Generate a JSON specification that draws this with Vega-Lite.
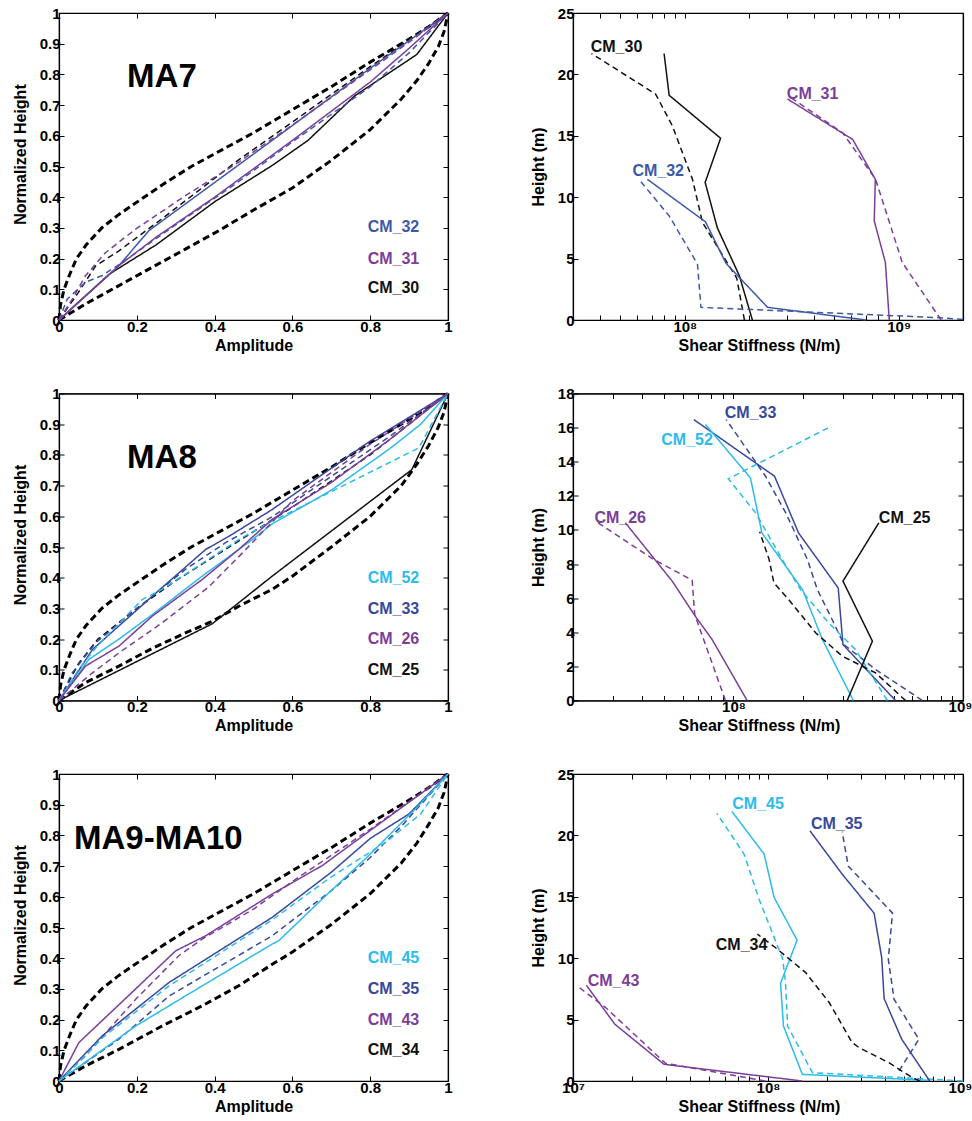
{
"$schema": "https://vega.github.io/schema/vega-lite/v6.json",
"padding": {"left": 11, "top": 5, "right": 0, "bottom": 5},
"config": {
 "font": "Liberation Sans",
 "view": {"stroke": "black", "strokeWidth": 1.2},
 "axis": {"grid": false, "domainColor": "black", "domainWidth": 1.2, "tickColor": "black", "tickSize": -5, "tickWidth": 1, "labelFont": "Liberation Sans", "labelFontSize": 15, "labelFontWeight": "bold", "labelColor": "black", "titleFont": "Liberation Sans", "titleFontSize": 16, "titleFontWeight": "bold", "titleColor": "black", "labelPadding": 4, "titlePadding": 2, "labelOverlap": false, "labelFlush": false},
 "axisY": {"titlePadding": 11},
 "axisX": {"titlePadding": 3},
 "text": {"font": "Liberation Sans"}
},
"datasets": {
 "env": [
  {"panel":"MA7","curve":"upper","x":0,"y":0},{"panel":"MA7","curve":"upper","x":0.004,"y":0.05},{"panel":"MA7","curve":"upper","x":0.013,"y":0.1},{"panel":"MA7","curve":"upper","x":0.028,"y":0.15},{"panel":"MA7","curve":"upper","x":0.045,"y":0.2},{"panel":"MA7","curve":"upper","x":0.07,"y":0.245},{"panel":"MA7","curve":"upper","x":0.11,"y":0.3},{"panel":"MA7","curve":"upper","x":0.15,"y":0.34},{"panel":"MA7","curve":"upper","x":0.19,"y":0.375},{"panel":"MA7","curve":"upper","x":0.265,"y":0.44},{"panel":"MA7","curve":"upper","x":0.34,"y":0.5},{"panel":"MA7","curve":"upper","x":0.42,"y":0.555},{"panel":"MA7","curve":"upper","x":0.5,"y":0.61},{"panel":"MA7","curve":"upper","x":0.6,"y":0.685},{"panel":"MA7","curve":"upper","x":0.7,"y":0.76},{"panel":"MA7","curve":"upper","x":0.8,"y":0.84},{"panel":"MA7","curve":"upper","x":0.9,"y":0.915},{"panel":"MA7","curve":"upper","x":0.95,"y":0.955},{"panel":"MA7","curve":"upper","x":1,"y":1},
  {"panel":"MA7","curve":"lower","x":0,"y":0},{"panel":"MA7","curve":"lower","x":0.068,"y":0.052},{"panel":"MA7","curve":"lower","x":0.154,"y":0.112},{"panel":"MA7","curve":"lower","x":0.24,"y":0.172},{"panel":"MA7","curve":"lower","x":0.325,"y":0.231},{"panel":"MA7","curve":"lower","x":0.411,"y":0.291},{"panel":"MA7","curve":"lower","x":0.497,"y":0.356},{"panel":"MA7","curve":"lower","x":0.6,"y":0.43},{"panel":"MA7","curve":"lower","x":0.7,"y":0.52},{"panel":"MA7","curve":"lower","x":0.8,"y":0.62},{"panel":"MA7","curve":"lower","x":0.88,"y":0.72},{"panel":"MA7","curve":"lower","x":0.92,"y":0.78},{"panel":"MA7","curve":"lower","x":0.95,"y":0.835},{"panel":"MA7","curve":"lower","x":0.975,"y":0.89},{"panel":"MA7","curve":"lower","x":0.99,"y":0.94},{"panel":"MA7","curve":"lower","x":1,"y":1},
  {"panel":"MA8","curve":"upper","x":0,"y":0},{"panel":"MA8","curve":"upper","x":0.004,"y":0.05},{"panel":"MA8","curve":"upper","x":0.013,"y":0.1},{"panel":"MA8","curve":"upper","x":0.028,"y":0.15},{"panel":"MA8","curve":"upper","x":0.045,"y":0.2},{"panel":"MA8","curve":"upper","x":0.07,"y":0.245},{"panel":"MA8","curve":"upper","x":0.11,"y":0.3},{"panel":"MA8","curve":"upper","x":0.15,"y":0.34},{"panel":"MA8","curve":"upper","x":0.19,"y":0.375},{"panel":"MA8","curve":"upper","x":0.265,"y":0.44},{"panel":"MA8","curve":"upper","x":0.34,"y":0.5},{"panel":"MA8","curve":"upper","x":0.42,"y":0.555},{"panel":"MA8","curve":"upper","x":0.5,"y":0.61},{"panel":"MA8","curve":"upper","x":0.6,"y":0.685},{"panel":"MA8","curve":"upper","x":0.7,"y":0.76},{"panel":"MA8","curve":"upper","x":0.8,"y":0.84},{"panel":"MA8","curve":"upper","x":0.9,"y":0.915},{"panel":"MA8","curve":"upper","x":0.95,"y":0.955},{"panel":"MA8","curve":"upper","x":1,"y":1},
  {"panel":"MA8","curve":"lower","x":0,"y":0},{"panel":"MA8","curve":"lower","x":0.068,"y":0.058},{"panel":"MA8","curve":"lower","x":0.154,"y":0.112},{"panel":"MA8","curve":"lower","x":0.24,"y":0.17},{"panel":"MA8","curve":"lower","x":0.325,"y":0.22},{"panel":"MA8","curve":"lower","x":0.394,"y":0.258},{"panel":"MA8","curve":"lower","x":0.462,"y":0.307},{"panel":"MA8","curve":"lower","x":0.548,"y":0.362},{"panel":"MA8","curve":"lower","x":0.6,"y":0.405},{"panel":"MA8","curve":"lower","x":0.7,"y":0.5},{"panel":"MA8","curve":"lower","x":0.8,"y":0.6},{"panel":"MA8","curve":"lower","x":0.88,"y":0.7},{"panel":"MA8","curve":"lower","x":0.92,"y":0.77},{"panel":"MA8","curve":"lower","x":0.95,"y":0.83},{"panel":"MA8","curve":"lower","x":0.975,"y":0.89},{"panel":"MA8","curve":"lower","x":0.99,"y":0.94},{"panel":"MA8","curve":"lower","x":1,"y":1},
  {"panel":"MA9-MA10","curve":"upper","x":0,"y":0},{"panel":"MA9-MA10","curve":"upper","x":0.004,"y":0.05},{"panel":"MA9-MA10","curve":"upper","x":0.013,"y":0.1},{"panel":"MA9-MA10","curve":"upper","x":0.028,"y":0.15},{"panel":"MA9-MA10","curve":"upper","x":0.045,"y":0.2},{"panel":"MA9-MA10","curve":"upper","x":0.07,"y":0.245},{"panel":"MA9-MA10","curve":"upper","x":0.11,"y":0.3},{"panel":"MA9-MA10","curve":"upper","x":0.15,"y":0.34},{"panel":"MA9-MA10","curve":"upper","x":0.19,"y":0.375},{"panel":"MA9-MA10","curve":"upper","x":0.265,"y":0.44},{"panel":"MA9-MA10","curve":"upper","x":0.34,"y":0.5},{"panel":"MA9-MA10","curve":"upper","x":0.42,"y":0.555},{"panel":"MA9-MA10","curve":"upper","x":0.5,"y":0.61},{"panel":"MA9-MA10","curve":"upper","x":0.6,"y":0.685},{"panel":"MA9-MA10","curve":"upper","x":0.7,"y":0.76},{"panel":"MA9-MA10","curve":"upper","x":0.8,"y":0.84},{"panel":"MA9-MA10","curve":"upper","x":0.9,"y":0.915},{"panel":"MA9-MA10","curve":"upper","x":0.95,"y":0.955},{"panel":"MA9-MA10","curve":"upper","x":1,"y":1},
  {"panel":"MA9-MA10","curve":"lower","x":0,"y":0},{"panel":"MA9-MA10","curve":"lower","x":0.068,"y":0.049},{"panel":"MA9-MA10","curve":"lower","x":0.154,"y":0.103},{"panel":"MA9-MA10","curve":"lower","x":0.265,"y":0.179},{"panel":"MA9-MA10","curve":"lower","x":0.368,"y":0.245},{"panel":"MA9-MA10","curve":"lower","x":0.462,"y":0.31},{"panel":"MA9-MA10","curve":"lower","x":0.548,"y":0.38},{"panel":"MA9-MA10","curve":"lower","x":0.6,"y":0.42},{"panel":"MA9-MA10","curve":"lower","x":0.7,"y":0.51},{"panel":"MA9-MA10","curve":"lower","x":0.8,"y":0.61},{"panel":"MA9-MA10","curve":"lower","x":0.88,"y":0.71},{"panel":"MA9-MA10","curve":"lower","x":0.92,"y":0.775},{"panel":"MA9-MA10","curve":"lower","x":0.95,"y":0.835},{"panel":"MA9-MA10","curve":"lower","x":0.975,"y":0.89},{"panel":"MA9-MA10","curve":"lower","x":0.99,"y":0.94},{"panel":"MA9-MA10","curve":"lower","x":1,"y":1}
 ],
 "p1": [
  {"cm":"CM_30","kind":"solid","x":0,"y":0},{"cm":"CM_30","kind":"solid","x":0.13,"y":0.15},{"cm":"CM_30","kind":"solid","x":0.25,"y":0.245},{"cm":"CM_30","kind":"solid","x":0.4,"y":0.385},{"cm":"CM_30","kind":"solid","x":0.55,"y":0.505},{"cm":"CM_30","kind":"solid","x":0.64,"y":0.585},{"cm":"CM_30","kind":"solid","x":0.76,"y":0.73},{"cm":"CM_30","kind":"solid","x":0.92,"y":0.865},{"cm":"CM_30","kind":"solid","x":1,"y":1},
  {"cm":"CM_30","kind":"dashed","x":0,"y":0},{"cm":"CM_30","kind":"dashed","x":0.05,"y":0.09},{"cm":"CM_30","kind":"dashed","x":0.094,"y":0.176},{"cm":"CM_30","kind":"dashed","x":0.154,"y":0.225},{"cm":"CM_30","kind":"dashed","x":0.265,"y":0.33},{"cm":"CM_30","kind":"dashed","x":0.46,"y":0.52},{"cm":"CM_30","kind":"dashed","x":0.6,"y":0.645},{"cm":"CM_30","kind":"dashed","x":0.8,"y":0.825},{"cm":"CM_30","kind":"dashed","x":1,"y":1},
  {"cm":"CM_32","kind":"solid","x":0,"y":0},{"cm":"CM_32","kind":"solid","x":0.154,"y":0.177},{"cm":"CM_32","kind":"solid","x":0.231,"y":0.291},{"cm":"CM_32","kind":"solid","x":0.548,"y":0.585},{"cm":"CM_32","kind":"solid","x":0.8,"y":0.82},{"cm":"CM_32","kind":"solid","x":1,"y":1},
  {"cm":"CM_32","kind":"dashed","x":0,"y":0},{"cm":"CM_32","kind":"dashed","x":0.021,"y":0.068},{"cm":"CM_32","kind":"dashed","x":0.068,"y":0.123},{"cm":"CM_32","kind":"dashed","x":0.111,"y":0.145},{"cm":"CM_32","kind":"dashed","x":0.154,"y":0.18},{"cm":"CM_32","kind":"dashed","x":0.3,"y":0.31},{"cm":"CM_32","kind":"dashed","x":0.45,"y":0.44},{"cm":"CM_32","kind":"dashed","x":0.6,"y":0.58},{"cm":"CM_32","kind":"dashed","x":0.8,"y":0.76},{"cm":"CM_32","kind":"dashed","x":0.9,"y":0.87},{"cm":"CM_32","kind":"dashed","x":1,"y":1},
  {"cm":"CM_31","kind":"solid","x":0,"y":0},{"cm":"CM_31","kind":"solid","x":0.154,"y":0.177},{"cm":"CM_31","kind":"solid","x":0.25,"y":0.27},{"cm":"CM_31","kind":"solid","x":0.4,"y":0.4},{"cm":"CM_31","kind":"solid","x":0.6,"y":0.585},{"cm":"CM_31","kind":"solid","x":0.7,"y":0.68},{"cm":"CM_31","kind":"solid","x":0.8,"y":0.775},{"cm":"CM_31","kind":"solid","x":0.9,"y":0.885},{"cm":"CM_31","kind":"solid","x":1,"y":1},
  {"cm":"CM_31","kind":"dashed","x":0,"y":0},{"cm":"CM_31","kind":"dashed","x":0.034,"y":0.068},{"cm":"CM_31","kind":"dashed","x":0.068,"y":0.144},{"cm":"CM_31","kind":"dashed","x":0.12,"y":0.22},{"cm":"CM_31","kind":"dashed","x":0.197,"y":0.296},{"cm":"CM_31","kind":"dashed","x":0.325,"y":0.405},{"cm":"CM_31","kind":"dashed","x":0.462,"y":0.514},{"cm":"CM_31","kind":"dashed","x":0.548,"y":0.59},{"cm":"CM_31","kind":"dashed","x":0.6,"y":0.635},{"cm":"CM_31","kind":"dashed","x":0.75,"y":0.77},{"cm":"CM_31","kind":"dashed","x":0.9,"y":0.905},{"cm":"CM_31","kind":"dashed","x":1,"y":1}
 ],
 "p2": [
  {"cm":"CM_25","kind":"solid","x":0,"y":0},{"cm":"CM_25","kind":"solid","x":0.394,"y":0.25},{"cm":"CM_25","kind":"solid","x":0.548,"y":0.405},{"cm":"CM_25","kind":"solid","x":0.907,"y":0.752},{"cm":"CM_25","kind":"solid","x":1,"y":1},
  {"cm":"CM_25","kind":"dashed","x":0,"y":0},{"cm":"CM_25","kind":"dashed","x":0.05,"y":0.12},{"cm":"CM_25","kind":"dashed","x":0.1,"y":0.2},{"cm":"CM_25","kind":"dashed","x":0.2,"y":0.3},{"cm":"CM_25","kind":"dashed","x":0.3,"y":0.39},{"cm":"CM_25","kind":"dashed","x":0.4,"y":0.47},{"cm":"CM_25","kind":"dashed","x":0.6,"y":0.63},{"cm":"CM_25","kind":"dashed","x":0.8,"y":0.8},{"cm":"CM_25","kind":"dashed","x":1,"y":1},
  {"cm":"CM_33","kind":"solid","x":0,"y":0},{"cm":"CM_33","kind":"solid","x":0.086,"y":0.166},{"cm":"CM_33","kind":"solid","x":0.24,"y":0.34},{"cm":"CM_33","kind":"solid","x":0.377,"y":0.492},{"cm":"CM_33","kind":"solid","x":0.437,"y":0.535},{"cm":"CM_33","kind":"solid","x":0.548,"y":0.622},{"cm":"CM_33","kind":"solid","x":0.8,"y":0.845},{"cm":"CM_33","kind":"solid","x":1,"y":1},
  {"cm":"CM_33","kind":"dashed","x":0,"y":0},{"cm":"CM_33","kind":"dashed","x":0.034,"y":0.09},{"cm":"CM_33","kind":"dashed","x":0.094,"y":0.188},{"cm":"CM_33","kind":"dashed","x":0.197,"y":0.296},{"cm":"CM_33","kind":"dashed","x":0.325,"y":0.427},{"cm":"CM_33","kind":"dashed","x":0.428,"y":0.514},{"cm":"CM_33","kind":"dashed","x":0.55,"y":0.6},{"cm":"CM_33","kind":"dashed","x":0.7,"y":0.73},{"cm":"CM_33","kind":"dashed","x":0.85,"y":0.86},{"cm":"CM_33","kind":"dashed","x":1,"y":1},
  {"cm":"CM_52","kind":"solid","x":0,"y":0},{"cm":"CM_52","kind":"solid","x":0.077,"y":0.134},{"cm":"CM_52","kind":"solid","x":0.154,"y":0.2},{"cm":"CM_52","kind":"solid","x":0.24,"y":0.28},{"cm":"CM_52","kind":"solid","x":0.368,"y":0.405},{"cm":"CM_52","kind":"solid","x":0.497,"y":0.524},{"cm":"CM_52","kind":"solid","x":0.548,"y":0.575},{"cm":"CM_52","kind":"solid","x":0.7,"y":0.685},{"cm":"CM_52","kind":"solid","x":0.85,"y":0.82},{"cm":"CM_52","kind":"solid","x":0.93,"y":0.9},{"cm":"CM_52","kind":"solid","x":1,"y":1},
  {"cm":"CM_52","kind":"dashed","x":0,"y":0},{"cm":"CM_52","kind":"dashed","x":0.05,"y":0.1},{"cm":"CM_52","kind":"dashed","x":0.1,"y":0.18},{"cm":"CM_52","kind":"dashed","x":0.214,"y":0.329},{"cm":"CM_52","kind":"dashed","x":0.265,"y":0.362},{"cm":"CM_52","kind":"dashed","x":0.462,"y":0.524},{"cm":"CM_52","kind":"dashed","x":0.531,"y":0.573},{"cm":"CM_52","kind":"dashed","x":0.925,"y":0.823},{"cm":"CM_52","kind":"dashed","x":1,"y":1},
  {"cm":"CM_26","kind":"solid","x":0,"y":0},{"cm":"CM_26","kind":"solid","x":0.068,"y":0.112},{"cm":"CM_26","kind":"solid","x":0.154,"y":0.177},{"cm":"CM_26","kind":"solid","x":0.24,"y":0.275},{"cm":"CM_26","kind":"solid","x":0.368,"y":0.394},{"cm":"CM_26","kind":"solid","x":0.462,"y":0.492},{"cm":"CM_26","kind":"solid","x":0.548,"y":0.59},{"cm":"CM_26","kind":"solid","x":0.7,"y":0.71},{"cm":"CM_26","kind":"solid","x":0.85,"y":0.85},{"cm":"CM_26","kind":"solid","x":1,"y":1},
  {"cm":"CM_26","kind":"dashed","x":0,"y":0},{"cm":"CM_26","kind":"dashed","x":0.086,"y":0.09},{"cm":"CM_26","kind":"dashed","x":0.154,"y":0.155},{"cm":"CM_26","kind":"dashed","x":0.265,"y":0.253},{"cm":"CM_26","kind":"dashed","x":0.385,"y":0.37},{"cm":"CM_26","kind":"dashed","x":0.471,"y":0.48},{"cm":"CM_26","kind":"dashed","x":0.6,"y":0.65},{"cm":"CM_26","kind":"dashed","x":0.8,"y":0.835},{"cm":"CM_26","kind":"dashed","x":1,"y":1}
 ],
 "p3": [
  {"cm":"CM_43","kind":"solid","x":0,"y":0},{"cm":"CM_43","kind":"solid","x":0.051,"y":0.125},{"cm":"CM_43","kind":"solid","x":0.197,"y":0.3},{"cm":"CM_43","kind":"solid","x":0.3,"y":0.424},{"cm":"CM_43","kind":"solid","x":0.377,"y":0.473},{"cm":"CM_43","kind":"solid","x":0.548,"y":0.609},{"cm":"CM_43","kind":"solid","x":0.676,"y":0.701},{"cm":"CM_43","kind":"solid","x":0.88,"y":0.89},{"cm":"CM_43","kind":"solid","x":1,"y":1},
  {"cm":"CM_43","kind":"dashed","x":0,"y":0},{"cm":"CM_43","kind":"dashed","x":0.068,"y":0.082},{"cm":"CM_43","kind":"dashed","x":0.197,"y":0.266},{"cm":"CM_43","kind":"dashed","x":0.308,"y":0.408},{"cm":"CM_43","kind":"dashed","x":0.368,"y":0.462},{"cm":"CM_43","kind":"dashed","x":0.5,"y":0.56},{"cm":"CM_43","kind":"dashed","x":0.6,"y":0.65},{"cm":"CM_43","kind":"dashed","x":0.7,"y":0.735},{"cm":"CM_43","kind":"dashed","x":0.8,"y":0.82},{"cm":"CM_43","kind":"dashed","x":0.9,"y":0.91},{"cm":"CM_43","kind":"dashed","x":1,"y":1},
  {"cm":"CM_35","kind":"solid","x":0,"y":0},{"cm":"CM_35","kind":"solid","x":0.111,"y":0.147},{"cm":"CM_35","kind":"solid","x":0.283,"y":0.321},{"cm":"CM_35","kind":"solid","x":0.548,"y":0.533},{"cm":"CM_35","kind":"solid","x":0.7,"y":0.68},{"cm":"CM_35","kind":"solid","x":0.8,"y":0.79},{"cm":"CM_35","kind":"solid","x":0.9,"y":0.87},{"cm":"CM_35","kind":"solid","x":1,"y":1},
  {"cm":"CM_35","kind":"dashed","x":0,"y":0},{"cm":"CM_35","kind":"dashed","x":0.068,"y":0.06},{"cm":"CM_35","kind":"dashed","x":0.154,"y":0.136},{"cm":"CM_35","kind":"dashed","x":0.283,"y":0.277},{"cm":"CM_35","kind":"dashed","x":0.548,"y":0.473},{"cm":"CM_35","kind":"dashed","x":0.7,"y":0.62},{"cm":"CM_35","kind":"dashed","x":0.796,"y":0.723},{"cm":"CM_35","kind":"dashed","x":0.882,"y":0.832},{"cm":"CM_35","kind":"dashed","x":1,"y":1},
  {"cm":"CM_45","kind":"solid","x":0,"y":0},{"cm":"CM_45","kind":"solid","x":0.197,"y":0.179},{"cm":"CM_45","kind":"solid","x":0.325,"y":0.277},{"cm":"CM_45","kind":"solid","x":0.548,"y":0.446},{"cm":"CM_45","kind":"solid","x":0.565,"y":0.457},{"cm":"CM_45","kind":"solid","x":0.676,"y":0.592},{"cm":"CM_45","kind":"solid","x":0.796,"y":0.734},{"cm":"CM_45","kind":"solid","x":0.916,"y":0.886},{"cm":"CM_45","kind":"solid","x":1,"y":1},
  {"cm":"CM_45","kind":"dashed","x":0,"y":0},{"cm":"CM_45","kind":"dashed","x":0.05,"y":0.06},{"cm":"CM_45","kind":"dashed","x":0.111,"y":0.14},{"cm":"CM_45","kind":"dashed","x":0.283,"y":0.31},{"cm":"CM_45","kind":"dashed","x":0.548,"y":0.525},{"cm":"CM_45","kind":"dashed","x":0.7,"y":0.665},{"cm":"CM_45","kind":"dashed","x":0.839,"y":0.777},{"cm":"CM_45","kind":"dashed","x":0.93,"y":0.87},{"cm":"CM_45","kind":"dashed","x":1,"y":1}
 ],
 "p4": [
  {"cm":"CM_30","kind":"solid","stiff":8.0e7,"height":21.7},{"cm":"CM_30","kind":"solid","stiff":8.45e7,"height":18.3},{"cm":"CM_30","kind":"solid","stiff":1.47e8,"height":14.8},{"cm":"CM_30","kind":"solid","stiff":1.245e8,"height":11.2},{"cm":"CM_30","kind":"solid","stiff":1.42e8,"height":7.5},{"cm":"CM_30","kind":"solid","stiff":1.8e8,"height":3.6},{"cm":"CM_30","kind":"solid","stiff":2.07e8,"height":0},
  {"cm":"CM_30","kind":"dashed","stiff":3.66e7,"height":21.7},{"cm":"CM_30","kind":"dashed","stiff":7.3e7,"height":18.4},{"cm":"CM_30","kind":"dashed","stiff":8.75e7,"height":15.8},{"cm":"CM_30","kind":"dashed","stiff":1.086e8,"height":11.46},{"cm":"CM_30","kind":"dashed","stiff":1.21e8,"height":7.94},{"cm":"CM_30","kind":"dashed","stiff":1.75e8,"height":3.4},{"cm":"CM_30","kind":"dashed","stiff":1.9e8,"height":0},
  {"cm":"CM_32","kind":"solid","stiff":6.68e7,"height":11.46},{"cm":"CM_32","kind":"solid","stiff":1.25e8,"height":7.99},{"cm":"CM_32","kind":"solid","stiff":1.56e8,"height":4.6},{"cm":"CM_32","kind":"solid","stiff":2.44e8,"height":1.03},{"cm":"CM_32","kind":"solid","stiff":7.03e8,"height":0},
  {"cm":"CM_32","kind":"dashed","stiff":6.1e7,"height":11.46},{"cm":"CM_32","kind":"dashed","stiff":8.45e7,"height":8.48},{"cm":"CM_32","kind":"dashed","stiff":1.146e8,"height":4.55},{"cm":"CM_32","kind":"dashed","stiff":1.19e8,"height":1.03},{"cm":"CM_32","kind":"dashed","stiff":1.5e9,"height":0.2},{"cm":"CM_32","kind":"dashed","stiff":2.0e9,"height":0.05},
  {"cm":"CM_31","kind":"solid","stiff":3.02e8,"height":18.0},{"cm":"CM_31","kind":"solid","stiff":6.1e8,"height":14.7},{"cm":"CM_31","kind":"solid","stiff":7.78e8,"height":11.46},{"cm":"CM_31","kind":"solid","stiff":7.69e8,"height":8.07},{"cm":"CM_31","kind":"solid","stiff":8.67e8,"height":4.69},{"cm":"CM_31","kind":"solid","stiff":9.04e8,"height":0},
  {"cm":"CM_31","kind":"dashed","stiff":3.08e8,"height":18.2},{"cm":"CM_31","kind":"dashed","stiff":5.47e8,"height":15.25},{"cm":"CM_31","kind":"dashed","stiff":7.8e8,"height":11.46},{"cm":"CM_31","kind":"dashed","stiff":1.04e9,"height":4.69},{"cm":"CM_31","kind":"dashed","stiff":1.58e9,"height":0}
 ],
 "p5": [
  {"cm":"CM_26","kind":"solid","stiff":3.38e7,"height":10.42},{"cm":"CM_26","kind":"solid","stiff":5.41e7,"height":7.0},{"cm":"CM_26","kind":"solid","stiff":6.82e7,"height":4.94},{"cm":"CM_26","kind":"solid","stiff":8.07e7,"height":3.58},{"cm":"CM_26","kind":"solid","stiff":1.147e8,"height":0},
  {"cm":"CM_26","kind":"dashed","stiff":2.57e7,"height":10.42},{"cm":"CM_26","kind":"dashed","stiff":4.5e7,"height":8.27},{"cm":"CM_26","kind":"dashed","stiff":6.61e7,"height":7.05},{"cm":"CM_26","kind":"dashed","stiff":6.78e7,"height":5.04},{"cm":"CM_26","kind":"dashed","stiff":9.23e7,"height":0},
  {"cm":"CM_33","kind":"solid","stiff":6.72e7,"height":16.47},{"cm":"CM_33","kind":"solid","stiff":1.51e8,"height":13.15},{"cm":"CM_33","kind":"solid","stiff":1.92e8,"height":9.83},{"cm":"CM_33","kind":"solid","stiff":2.86e8,"height":6.6},{"cm":"CM_33","kind":"solid","stiff":3.0e8,"height":3.28},{"cm":"CM_33","kind":"solid","stiff":5.08e8,"height":0},
  {"cm":"CM_33","kind":"dashed","stiff":9.3e7,"height":16.47},{"cm":"CM_33","kind":"dashed","stiff":1.38e8,"height":13.15},{"cm":"CM_33","kind":"dashed","stiff":1.69e8,"height":11.0},{"cm":"CM_33","kind":"dashed","stiff":2.1e8,"height":8.27},{"cm":"CM_33","kind":"dashed","stiff":2.32e8,"height":6.5},{"cm":"CM_33","kind":"dashed","stiff":2.69e8,"height":4.75},{"cm":"CM_33","kind":"dashed","stiff":3.03e8,"height":3.28},{"cm":"CM_33","kind":"dashed","stiff":4.16e8,"height":1.82},{"cm":"CM_33","kind":"dashed","stiff":6.65e8,"height":0},
  {"cm":"CM_52","kind":"solid","stiff":7.55e7,"height":16.18},{"cm":"CM_52","kind":"solid","stiff":1.186e8,"height":13.05},{"cm":"CM_52","kind":"solid","stiff":1.33e8,"height":9.83},{"cm":"CM_52","kind":"solid","stiff":2.0e8,"height":6.5},{"cm":"CM_52","kind":"solid","stiff":2.44e8,"height":3.58},{"cm":"CM_52","kind":"solid","stiff":3.33e8,"height":0},
  {"cm":"CM_52","kind":"dashed","stiff":2.67e8,"height":16.08},{"cm":"CM_52","kind":"dashed","stiff":9.5e7,"height":13.0},{"cm":"CM_52","kind":"dashed","stiff":1.25e8,"height":11.0},{"cm":"CM_52","kind":"dashed","stiff":1.63e8,"height":8.27},{"cm":"CM_52","kind":"dashed","stiff":1.96e8,"height":6.5},{"cm":"CM_52","kind":"dashed","stiff":2.6e8,"height":4.55},{"cm":"CM_52","kind":"dashed","stiff":3.4e8,"height":2.99},{"cm":"CM_52","kind":"dashed","stiff":4.68e8,"height":0},
  {"cm":"CM_25","kind":"solid","stiff":4.3e8,"height":10.42},{"cm":"CM_25","kind":"solid","stiff":3.0e8,"height":7.0},{"cm":"CM_25","kind":"solid","stiff":4.03e8,"height":3.48},{"cm":"CM_25","kind":"solid","stiff":3.13e8,"height":0},
  {"cm":"CM_25","kind":"dashed","stiff":1.3e8,"height":9.9},{"cm":"CM_25","kind":"dashed","stiff":1.43e8,"height":8.27},{"cm":"CM_25","kind":"dashed","stiff":1.5e8,"height":6.9},{"cm":"CM_25","kind":"dashed","stiff":1.74e8,"height":5.92},{"cm":"CM_25","kind":"dashed","stiff":2.28e8,"height":3.97},{"cm":"CM_25","kind":"dashed","stiff":2.98e8,"height":2.6},{"cm":"CM_25","kind":"dashed","stiff":4.16e8,"height":1.62},{"cm":"CM_25","kind":"dashed","stiff":5.62e8,"height":0}
 ],
 "p6": [
  {"cm":"CM_43","kind":"solid","stiff":1.17e7,"height":7.8},{"cm":"CM_43","kind":"solid","stiff":1.64e7,"height":4.62},{"cm":"CM_43","kind":"solid","stiff":2.93e7,"height":1.36},{"cm":"CM_43","kind":"solid","stiff":1.5e8,"height":0},
  {"cm":"CM_43","kind":"dashed","stiff":1.08e7,"height":7.6},{"cm":"CM_43","kind":"dashed","stiff":1.47e7,"height":5.98},{"cm":"CM_43","kind":"dashed","stiff":2.98e7,"height":1.44},{"cm":"CM_43","kind":"dashed","stiff":9.7e7,"height":0},
  {"cm":"CM_45","kind":"solid","stiff":6.52e7,"height":21.96},{"cm":"CM_45","kind":"solid","stiff":9.55e7,"height":18.48},{"cm":"CM_45","kind":"solid","stiff":1.075e8,"height":14.95},{"cm":"CM_45","kind":"solid","stiff":1.41e8,"height":11.47},{"cm":"CM_45","kind":"solid","stiff":1.16e8,"height":7.96},{"cm":"CM_45","kind":"solid","stiff":1.2e8,"height":4.48},{"cm":"CM_45","kind":"solid","stiff":1.5e8,"height":0.54},{"cm":"CM_45","kind":"solid","stiff":6.7e8,"height":0.05},
  {"cm":"CM_45","kind":"dashed","stiff":5.46e7,"height":21.8},{"cm":"CM_45","kind":"dashed","stiff":7.54e7,"height":18.48},{"cm":"CM_45","kind":"dashed","stiff":9.0e7,"height":14.8},{"cm":"CM_45","kind":"dashed","stiff":1.19e8,"height":9.92},{"cm":"CM_45","kind":"dashed","stiff":1.23e8,"height":8.0},{"cm":"CM_45","kind":"dashed","stiff":1.26e8,"height":4.48},{"cm":"CM_45","kind":"dashed","stiff":1.69e8,"height":0.68},{"cm":"CM_45","kind":"dashed","stiff":1e9,"height":0},
  {"cm":"CM_35","kind":"solid","stiff":1.64e8,"height":20.38},{"cm":"CM_35","kind":"solid","stiff":2.4e8,"height":16.85},{"cm":"CM_35","kind":"solid","stiff":3.5e8,"height":13.67},{"cm":"CM_35","kind":"solid","stiff":3.83e8,"height":10.05},{"cm":"CM_35","kind":"solid","stiff":3.94e8,"height":6.71},{"cm":"CM_35","kind":"solid","stiff":4.85e8,"height":3.4},{"cm":"CM_35","kind":"solid","stiff":6.75e8,"height":0},
  {"cm":"CM_35","kind":"dashed","stiff":2.4e8,"height":20.3},{"cm":"CM_35","kind":"dashed","stiff":2.58e8,"height":17.5},{"cm":"CM_35","kind":"dashed","stiff":4.35e8,"height":13.67},{"cm":"CM_35","kind":"dashed","stiff":4.14e8,"height":9.92},{"cm":"CM_35","kind":"dashed","stiff":4.43e8,"height":6.66},{"cm":"CM_35","kind":"dashed","stiff":5.94e8,"height":3.4},{"cm":"CM_35","kind":"dashed","stiff":4.7e8,"height":0.82},
  {"cm":"CM_34","kind":"dashed","stiff":8.82e7,"height":11.96},{"cm":"CM_34","kind":"dashed","stiff":1.09e8,"height":10.87},{"cm":"CM_34","kind":"dashed","stiff":1.56e8,"height":8.83},{"cm":"CM_34","kind":"dashed","stiff":2.06e8,"height":6.39},{"cm":"CM_34","kind":"dashed","stiff":2.7e8,"height":3.13},{"cm":"CM_34","kind":"dashed","stiff":2.93e8,"height":2.72},{"cm":"CM_34","kind":"dashed","stiff":4.17e8,"height":1.49},{"cm":"CM_34","kind":"dashed","stiff":5.5e8,"height":0.27},{"cm":"CM_34","kind":"dashed","stiff":6.0e8,"height":0}
 ],
 "l1": [{"cm":"CM_32","x":0.926,"y":0.302},{"cm":"CM_31","x":0.926,"y":0.2},{"cm":"CM_30","x":0.926,"y":0.103}],
 "l2": [{"cm":"CM_52","x":0.926,"y":0.4},{"cm":"CM_33","x":0.926,"y":0.299},{"cm":"CM_26","x":0.926,"y":0.2},{"cm":"CM_25","x":0.926,"y":0.1}],
 "l3": [{"cm":"CM_45","x":0.926,"y":0.4},{"cm":"CM_35","x":0.926,"y":0.3},{"cm":"CM_43","x":0.926,"y":0.2},{"cm":"CM_34","x":0.926,"y":0.1}],
 "l4": [{"cm":"CM_30","stiff":3.63e7,"height":22.2},{"cm":"CM_31","stiff":3.0e8,"height":18.4},{"cm":"CM_32","stiff":5.69e7,"height":12.1}],
 "l5": [{"cm":"CM_33","stiff":9.17e7,"height":16.87},{"cm":"CM_52","stiff":4.85e7,"height":15.3},{"cm":"CM_26","stiff":2.48e7,"height":10.7},{"cm":"CM_25","stiff":4.3e8,"height":10.7}],
 "l6": [{"cm":"CM_45","stiff":6.56e7,"height":22.55},{"cm":"CM_35","stiff":1.66e8,"height":20.9},{"cm":"CM_34","stiff":5.4e7,"height":11.06},{"cm":"CM_43","stiff":1.19e7,"height":8.15}],
 "names": [{"panel":"MA7","x":0.175,"y":0.79},{"panel":"MA8","x":0.175,"y":0.79},{"panel":"MA9-MA10","x":0.0385,"y":0.788}]
},
"columns": 2,
"spacing": {"row": 73.5, "column": 125},
"bounds": "flush",
"concat": [
 {"width": 389, "height": 307,
  "layer": [
   {"data": {"name": "env"}, "transform": [{"filter": "datum.panel == 'MA7'"}], "mark": {"type": "line", "color": "black", "strokeWidth": 3, "strokeDash": [7, 4]},
    "encoding": {"x": {"field": "x", "type": "quantitative", "scale": {"domain": [0, 1], "nice": false}, "axis": {"title": "Amplitude", "values": [0, 0.2, 0.4, 0.6, 0.8, 1], "format": "~g"}},
     "y": {"field": "y", "type": "quantitative", "scale": {"domain": [0, 1], "nice": false}, "axis": {"title": "Normalized Height", "titleY": 141, "values": [0, 0.1, 0.2, 0.3, 0.4, 0.5, 0.6, 0.7, 0.8, 0.9, 1], "format": "~g"}},
     "detail": {"field": "curve"}, "order": {"field": "y"}}},
   {"data": {"name": "p1"}, "mark": {"type": "line", "strokeWidth": 1.5},
    "encoding": {"x": {"field": "x", "type": "quantitative", "axis": null}, "y": {"field": "y", "type": "quantitative", "axis": null},
     "color": {"field": "cm", "type": "nominal", "legend": null, "scale": {"domain": ["CM_25","CM_26","CM_30","CM_31","CM_32","CM_33","CM_34","CM_35","CM_43","CM_45","CM_52"], "range": ["#111111","#7b3f99","#111111","#7b3f99","#3c5aa8","#39489b","#111111","#39489b","#7b3f99","#2dbbe9","#2dbbe9"]}},
     "strokeDash": {"field": "kind", "type": "nominal", "legend": null, "scale": {"domain": ["solid", "dashed"], "range": [[1, 0], [6, 4]]}},
     "order": {"field": "y"}}},
   {"data": {"name": "l1"}, "mark": {"type": "text", "align": "right", "baseline": "middle", "fontSize": 16, "fontWeight": "bold"},
    "encoding": {"x": {"field": "x", "type": "quantitative", "axis": {"orient": "top", "labels": false, "title": null, "values": [0, 0.2, 0.4, 0.6, 0.8, 1]}},
     "y": {"field": "y", "type": "quantitative", "axis": {"orient": "right", "labels": false, "title": null, "values": [0, 0.1, 0.2, 0.3, 0.4, 0.5, 0.6, 0.7, 0.8, 0.9, 1]}},
     "text": {"field": "cm"},
     "color": {"field": "cm", "type": "nominal", "legend": null, "scale": {"domain": ["CM_25","CM_26","CM_30","CM_31","CM_32","CM_33","CM_34","CM_35","CM_43","CM_45","CM_52"], "range": ["#111111","#7b3f99","#111111","#7b3f99","#3c5aa8","#39489b","#111111","#39489b","#7b3f99","#2dbbe9","#2dbbe9"]}}}},
   {"data": {"name": "names"}, "transform": [{"filter": "datum.panel == 'MA7'"}], "mark": {"type": "text", "align": "left", "baseline": "middle", "fontSize": 33, "fontWeight": "bold", "color": "black"},
    "encoding": {"x": {"field": "x", "type": "quantitative", "axis": null}, "y": {"field": "y", "type": "quantitative", "axis": null}, "text": {"field": "panel"}}}
  ],
  "resolve": {"axis": {"x": "independent", "y": "independent"}}
 },
 {"width": 390, "height": 307,
  "layer": [
   {"data": {"name": "p4"}, "mark": {"type": "line", "strokeWidth": 1.5},
    "encoding": {"x": {"field": "stiff", "type": "quantitative", "scale": {"type": "log", "domain": [3e7, 2e9], "nice": false}, "axis": {"title": "Shear Stiffness (N/m)", "titleX": 186, "values": [4e7,5e7,6e7,7e7,8e7,9e7,1e8,2e8,3e8,4e8,5e8,6e8,7e8,8e8,9e8,1e9,2e9], "labelExpr": "datum.value==1e7?'10⁷':datum.value==1e8?'10⁸':datum.value==1e9?'10⁹':''"}},
     "y": {"field": "height", "type": "quantitative", "scale": {"domain": [0, 25], "nice": false}, "axis": {"title": "Height (m)", "values": [0, 5, 10, 15, 20, 25]}},
     "color": {"field": "cm", "type": "nominal", "legend": null, "scale": {"domain": ["CM_25","CM_26","CM_30","CM_31","CM_32","CM_33","CM_34","CM_35","CM_43","CM_45","CM_52"], "range": ["#111111","#7b3f99","#111111","#7b3f99","#3c5aa8","#39489b","#111111","#39489b","#7b3f99","#2dbbe9","#2dbbe9"]}},
     "strokeDash": {"field": "kind", "type": "nominal", "legend": null, "scale": {"domain": ["solid", "dashed"], "range": [[1, 0], [6, 4]]}},
     "order": {"field": "height"}}},
   {"data": {"name": "l4"}, "mark": {"type": "text", "align": "left", "baseline": "middle", "fontSize": 16, "fontWeight": "bold"},
    "encoding": {"x": {"field": "stiff", "type": "quantitative", "axis": {"orient": "top", "labels": false, "title": null, "values": [4e7,5e7,6e7,7e7,8e7,9e7,1e8,2e8,3e8,4e8,5e8,6e8,7e8,8e8,9e8,1e9,2e9]}},
     "y": {"field": "height", "type": "quantitative", "axis": {"orient": "right", "labels": false, "title": null, "values": [0, 5, 10, 15, 20, 25]}},
     "text": {"field": "cm"},
     "color": {"field": "cm", "type": "nominal", "legend": null, "scale": {"domain": ["CM_25","CM_26","CM_30","CM_31","CM_32","CM_33","CM_34","CM_35","CM_43","CM_45","CM_52"], "range": ["#111111","#7b3f99","#111111","#7b3f99","#3c5aa8","#39489b","#111111","#39489b","#7b3f99","#2dbbe9","#2dbbe9"]}}}}
  ],
  "resolve": {"axis": {"x": "independent", "y": "independent"}}
 },
 {"width": 389, "height": 307,
  "layer": [
   {"data": {"name": "env"}, "transform": [{"filter": "datum.panel == 'MA8'"}], "mark": {"type": "line", "color": "black", "strokeWidth": 3, "strokeDash": [7, 4]},
    "encoding": {"x": {"field": "x", "type": "quantitative", "scale": {"domain": [0, 1], "nice": false}, "axis": {"title": "Amplitude", "values": [0, 0.2, 0.4, 0.6, 0.8, 1], "format": "~g"}},
     "y": {"field": "y", "type": "quantitative", "scale": {"domain": [0, 1], "nice": false}, "axis": {"title": "Normalized Height", "titleY": 141, "values": [0, 0.1, 0.2, 0.3, 0.4, 0.5, 0.6, 0.7, 0.8, 0.9, 1], "format": "~g"}},
     "detail": {"field": "curve"}, "order": {"field": "y"}}},
   {"data": {"name": "p2"}, "mark": {"type": "line", "strokeWidth": 1.5},
    "encoding": {"x": {"field": "x", "type": "quantitative", "axis": null}, "y": {"field": "y", "type": "quantitative", "axis": null},
     "color": {"field": "cm", "type": "nominal", "legend": null, "scale": {"domain": ["CM_25","CM_26","CM_30","CM_31","CM_32","CM_33","CM_34","CM_35","CM_43","CM_45","CM_52"], "range": ["#111111","#7b3f99","#111111","#7b3f99","#3c5aa8","#39489b","#111111","#39489b","#7b3f99","#2dbbe9","#2dbbe9"]}},
     "strokeDash": {"field": "kind", "type": "nominal", "legend": null, "scale": {"domain": ["solid", "dashed"], "range": [[1, 0], [6, 4]]}},
     "order": {"field": "y"}}},
   {"data": {"name": "l2"}, "mark": {"type": "text", "align": "right", "baseline": "middle", "fontSize": 16, "fontWeight": "bold"},
    "encoding": {"x": {"field": "x", "type": "quantitative", "axis": {"orient": "top", "labels": false, "title": null, "values": [0, 0.2, 0.4, 0.6, 0.8, 1]}},
     "y": {"field": "y", "type": "quantitative", "axis": {"orient": "right", "labels": false, "title": null, "values": [0, 0.1, 0.2, 0.3, 0.4, 0.5, 0.6, 0.7, 0.8, 0.9, 1]}},
     "text": {"field": "cm"},
     "color": {"field": "cm", "type": "nominal", "legend": null, "scale": {"domain": ["CM_25","CM_26","CM_30","CM_31","CM_32","CM_33","CM_34","CM_35","CM_43","CM_45","CM_52"], "range": ["#111111","#7b3f99","#111111","#7b3f99","#3c5aa8","#39489b","#111111","#39489b","#7b3f99","#2dbbe9","#2dbbe9"]}}}},
   {"data": {"name": "names"}, "transform": [{"filter": "datum.panel == 'MA8'"}], "mark": {"type": "text", "align": "left", "baseline": "middle", "fontSize": 33, "fontWeight": "bold", "color": "black"},
    "encoding": {"x": {"field": "x", "type": "quantitative", "axis": null}, "y": {"field": "y", "type": "quantitative", "axis": null}, "text": {"field": "panel"}}}
  ],
  "resolve": {"axis": {"x": "independent", "y": "independent"}}
 },
 {"width": 390, "height": 307,
  "layer": [
   {"data": {"name": "p5"}, "mark": {"type": "line", "strokeWidth": 1.5},
    "encoding": {"x": {"field": "stiff", "type": "quantitative", "scale": {"type": "log", "domain": [2e7, 1e9], "nice": false}, "axis": {"title": "Shear Stiffness (N/m)", "titleX": 186, "values": [2e7,3e7,4e7,5e7,6e7,7e7,8e7,9e7,1e8,2e8,3e8,4e8,5e8,6e8,7e8,8e8,9e8,1e9], "labelOffset": {"condition": {"test": "datum.value == 1e9", "value": -3}, "value": 0}, "labelExpr": "datum.value==1e7?'10⁷':datum.value==1e8?'10⁸':datum.value==1e9?'10⁹':''"}},
     "y": {"field": "height", "type": "quantitative", "scale": {"domain": [0, 18], "nice": false}, "axis": {"title": "Height (m)", "values": [0, 2, 4, 6, 8, 10, 12, 14, 16, 18]}},
     "color": {"field": "cm", "type": "nominal", "legend": null, "scale": {"domain": ["CM_25","CM_26","CM_30","CM_31","CM_32","CM_33","CM_34","CM_35","CM_43","CM_45","CM_52"], "range": ["#111111","#7b3f99","#111111","#7b3f99","#3c5aa8","#39489b","#111111","#39489b","#7b3f99","#2dbbe9","#2dbbe9"]}},
     "strokeDash": {"field": "kind", "type": "nominal", "legend": null, "scale": {"domain": ["solid", "dashed"], "range": [[1, 0], [6, 4]]}},
     "order": {"field": "height"}}},
   {"data": {"name": "l5"}, "mark": {"type": "text", "align": "left", "baseline": "middle", "fontSize": 16, "fontWeight": "bold"},
    "encoding": {"x": {"field": "stiff", "type": "quantitative", "axis": {"orient": "top", "labels": false, "title": null, "values": [2e7,3e7,4e7,5e7,6e7,7e7,8e7,9e7,1e8,2e8,3e8,4e8,5e8,6e8,7e8,8e8,9e8,1e9]}},
     "y": {"field": "height", "type": "quantitative", "axis": {"orient": "right", "labels": false, "title": null, "values": [0, 2, 4, 6, 8, 10, 12, 14, 16, 18]}},
     "text": {"field": "cm"},
     "color": {"field": "cm", "type": "nominal", "legend": null, "scale": {"domain": ["CM_25","CM_26","CM_30","CM_31","CM_32","CM_33","CM_34","CM_35","CM_43","CM_45","CM_52"], "range": ["#111111","#7b3f99","#111111","#7b3f99","#3c5aa8","#39489b","#111111","#39489b","#7b3f99","#2dbbe9","#2dbbe9"]}}}}
  ],
  "resolve": {"axis": {"x": "independent", "y": "independent"}}
 },
 {"width": 389, "height": 307,
  "layer": [
   {"data": {"name": "env"}, "transform": [{"filter": "datum.panel == 'MA9-MA10'"}], "mark": {"type": "line", "color": "black", "strokeWidth": 3, "strokeDash": [7, 4]},
    "encoding": {"x": {"field": "x", "type": "quantitative", "scale": {"domain": [0, 1], "nice": false}, "axis": {"title": "Amplitude", "values": [0, 0.2, 0.4, 0.6, 0.8, 1], "format": "~g"}},
     "y": {"field": "y", "type": "quantitative", "scale": {"domain": [0, 1], "nice": false}, "axis": {"title": "Normalized Height", "titleY": 141, "values": [0, 0.1, 0.2, 0.3, 0.4, 0.5, 0.6, 0.7, 0.8, 0.9, 1], "format": "~g"}},
     "detail": {"field": "curve"}, "order": {"field": "y"}}},
   {"data": {"name": "p3"}, "mark": {"type": "line", "strokeWidth": 1.5},
    "encoding": {"x": {"field": "x", "type": "quantitative", "axis": null}, "y": {"field": "y", "type": "quantitative", "axis": null},
     "color": {"field": "cm", "type": "nominal", "legend": null, "scale": {"domain": ["CM_25","CM_26","CM_30","CM_31","CM_32","CM_33","CM_34","CM_35","CM_43","CM_45","CM_52"], "range": ["#111111","#7b3f99","#111111","#7b3f99","#3c5aa8","#39489b","#111111","#39489b","#7b3f99","#2dbbe9","#2dbbe9"]}},
     "strokeDash": {"field": "kind", "type": "nominal", "legend": null, "scale": {"domain": ["solid", "dashed"], "range": [[1, 0], [6, 4]]}},
     "order": {"field": "y"}}},
   {"data": {"name": "l3"}, "mark": {"type": "text", "align": "right", "baseline": "middle", "fontSize": 16, "fontWeight": "bold"},
    "encoding": {"x": {"field": "x", "type": "quantitative", "axis": {"orient": "top", "labels": false, "title": null, "values": [0, 0.2, 0.4, 0.6, 0.8, 1]}},
     "y": {"field": "y", "type": "quantitative", "axis": {"orient": "right", "labels": false, "title": null, "values": [0, 0.1, 0.2, 0.3, 0.4, 0.5, 0.6, 0.7, 0.8, 0.9, 1]}},
     "text": {"field": "cm"},
     "color": {"field": "cm", "type": "nominal", "legend": null, "scale": {"domain": ["CM_25","CM_26","CM_30","CM_31","CM_32","CM_33","CM_34","CM_35","CM_43","CM_45","CM_52"], "range": ["#111111","#7b3f99","#111111","#7b3f99","#3c5aa8","#39489b","#111111","#39489b","#7b3f99","#2dbbe9","#2dbbe9"]}}}},
   {"data": {"name": "names"}, "transform": [{"filter": "datum.panel == 'MA9-MA10'"}], "mark": {"type": "text", "align": "left", "baseline": "middle", "fontSize": 33, "fontWeight": "bold", "color": "black"},
    "encoding": {"x": {"field": "x", "type": "quantitative", "axis": null}, "y": {"field": "y", "type": "quantitative", "axis": null}, "text": {"field": "panel"}}}
  ],
  "resolve": {"axis": {"x": "independent", "y": "independent"}}
 },
 {"width": 390, "height": 307,
  "layer": [
   {"data": {"name": "p6"}, "mark": {"type": "line", "strokeWidth": 1.5},
    "encoding": {"x": {"field": "stiff", "type": "quantitative", "scale": {"type": "log", "domain": [1e7, 1e9], "nice": false}, "axis": {"title": "Shear Stiffness (N/m)", "titleX": 186, "values": [1e7,2e7,3e7,4e7,5e7,6e7,7e7,8e7,9e7,1e8,2e8,3e8,4e8,5e8,6e8,7e8,8e8,9e8,1e9], "labelOffset": {"condition": {"test": "datum.value == 1e9", "value": -3}, "value": 0}, "labelExpr": "datum.value==1e7?'10⁷':datum.value==1e8?'10⁸':datum.value==1e9?'10⁹':''"}},
     "y": {"field": "height", "type": "quantitative", "scale": {"domain": [0, 25], "nice": false}, "axis": {"title": "Height (m)", "values": [0, 5, 10, 15, 20, 25]}},
     "color": {"field": "cm", "type": "nominal", "legend": null, "scale": {"domain": ["CM_25","CM_26","CM_30","CM_31","CM_32","CM_33","CM_34","CM_35","CM_43","CM_45","CM_52"], "range": ["#111111","#7b3f99","#111111","#7b3f99","#3c5aa8","#39489b","#111111","#39489b","#7b3f99","#2dbbe9","#2dbbe9"]}},
     "strokeDash": {"field": "kind", "type": "nominal", "legend": null, "scale": {"domain": ["solid", "dashed"], "range": [[1, 0], [6, 4]]}},
     "order": {"field": "height"}}},
   {"data": {"name": "l6"}, "mark": {"type": "text", "align": "left", "baseline": "middle", "fontSize": 16, "fontWeight": "bold"},
    "encoding": {"x": {"field": "stiff", "type": "quantitative", "axis": {"orient": "top", "labels": false, "title": null, "values": [1e7,2e7,3e7,4e7,5e7,6e7,7e7,8e7,9e7,1e8,2e8,3e8,4e8,5e8,6e8,7e8,8e8,9e8,1e9]}},
     "y": {"field": "height", "type": "quantitative", "axis": {"orient": "right", "labels": false, "title": null, "values": [0, 5, 10, 15, 20, 25]}},
     "text": {"field": "cm"},
     "color": {"field": "cm", "type": "nominal", "legend": null, "scale": {"domain": ["CM_25","CM_26","CM_30","CM_31","CM_32","CM_33","CM_34","CM_35","CM_43","CM_45","CM_52"], "range": ["#111111","#7b3f99","#111111","#7b3f99","#3c5aa8","#39489b","#111111","#39489b","#7b3f99","#2dbbe9","#2dbbe9"]}}}}
  ],
  "resolve": {"axis": {"x": "independent", "y": "independent"}}
 }
]
}
